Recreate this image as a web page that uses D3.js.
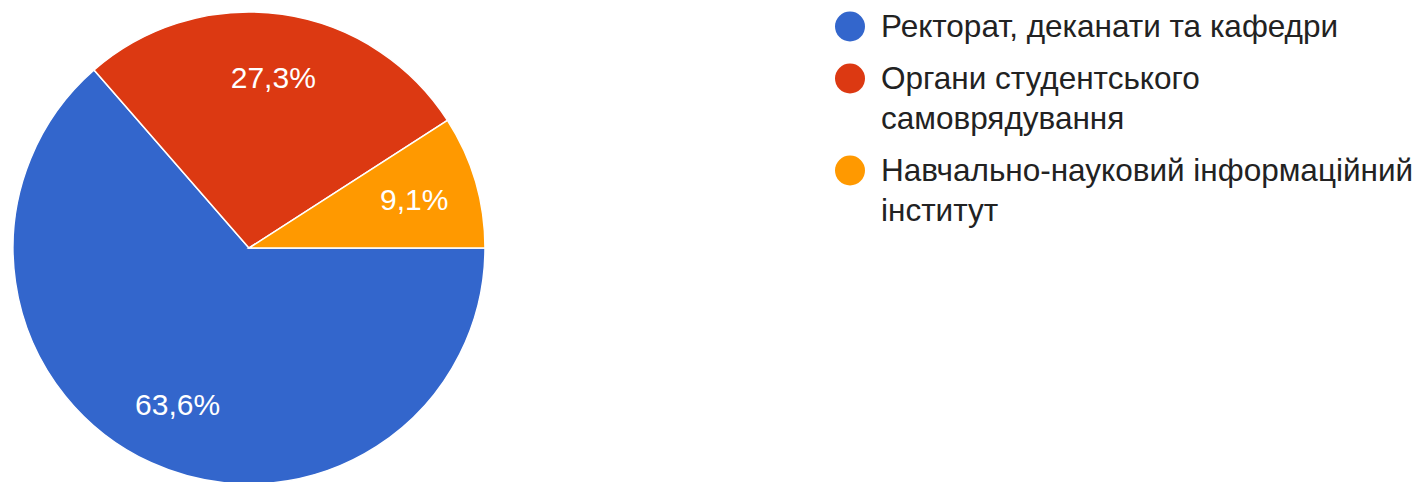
<!DOCTYPE html>
<html>
<head>
<meta charset="utf-8">
<script src="https://cdn.jsdelivr.net/npm/d3@7"></script>
<style>
  html, body { margin: 0; padding: 0; background: #fff; }
</style>
</head>
<body>
<div id="container"></div>
<script>
// data
let categories = [
    "Ректорат, деканати та кафедри",
    "Органи студентського самоврядування",
    "Навчально-науковий інформаційний інститут"
];
let values = [63.6, 27.3, 9.1];
let colors = ["#3366cc", "#dc3912", "#ff9900"];

let w = 1420;
let h = 482;

let viz = d3.select("#container")
  .append("svg")
  .attr("width", w)
  .attr("height", h)
  .style("background-color", "#fff")
  .style("font-family", "Arial, 'Liberation Sans', sans-serif");

let cx = 249;
let cy = 248;
let radius = 236;

let data = categories.map((c, i) => ({name: c, value: values[i], color: colors[i]}));

// slices go clockwise starting at 3 o'clock
let pie = d3.pie()
    .value(d => d.value)
    .sort(null)
    .startAngle(Math.PI / 2)
    .endAngle(Math.PI / 2 + 2 * Math.PI);

let arc = d3.arc().innerRadius(0).outerRadius(radius);
let labelArc = d3.arc().innerRadius(radius * 0.73).outerRadius(radius * 0.73);

let pieGroup = viz.append("g")
    .attr("transform", `translate(${cx}, ${cy})`);

let arcs = pie(data);

pieGroup.selectAll(".slice")
    .data(arcs)
    .enter()
    .append("path")
    .attr("class", "slice")
    .attr("d", arc)
    .attr("fill", d => d.data.color)
    .attr("stroke", "#fff")
    .attr("stroke-width", 1.5);

pieGroup.selectAll(".pct")
    .data(arcs)
    .enter()
    .append("text")
    .attr("class", "pct")
    .attr("x", d => labelArc.centroid(d)[0])
    .attr("y", d => labelArc.centroid(d)[1])
    .attr("dy", "0.35em")
    .attr("text-anchor", "middle")
    .attr("fill", "#fff")
    .style("font-size", "30px")
    .text(d => d3.format(".1f")(d.data.value).replace(".", ",") + "%");

// legend
let legendX = 881;
let legendMaxW = 539;
let lineH = 40;
let itemGap = 12;
let legend = viz.append("g");
let y = 37;

data.forEach(d => {
    let g = legend.append("g");
    let t = g.append("text")
        .attr("x", legendX)
        .attr("fill", "#222")
        .style("font-size", "31.5px");
    // simple word wrap
    let words = d.name.split(" ");
    let lines = [];
    let cur = "";
    words.forEach(word => {
        let test = cur ? cur + " " + word : word;
        t.text(test);
        if (t.node().getComputedTextLength() > legendMaxW && cur) {
            lines.push(cur);
            cur = word;
        } else {
            cur = test;
        }
    });
    lines.push(cur);
    t.text(null);
    lines.forEach((line, i) => {
        t.append("tspan")
            .attr("x", legendX)
            .attr("y", y + i * lineH)
            .text(line);
    });
    g.append("circle")
        .attr("cx", 850)
        .attr("cy", y - 10.5)
        .attr("r", 15)
        .attr("fill", d.color);
    y += lines.length * lineH + itemGap;
});
</script>
</body>
</html>
